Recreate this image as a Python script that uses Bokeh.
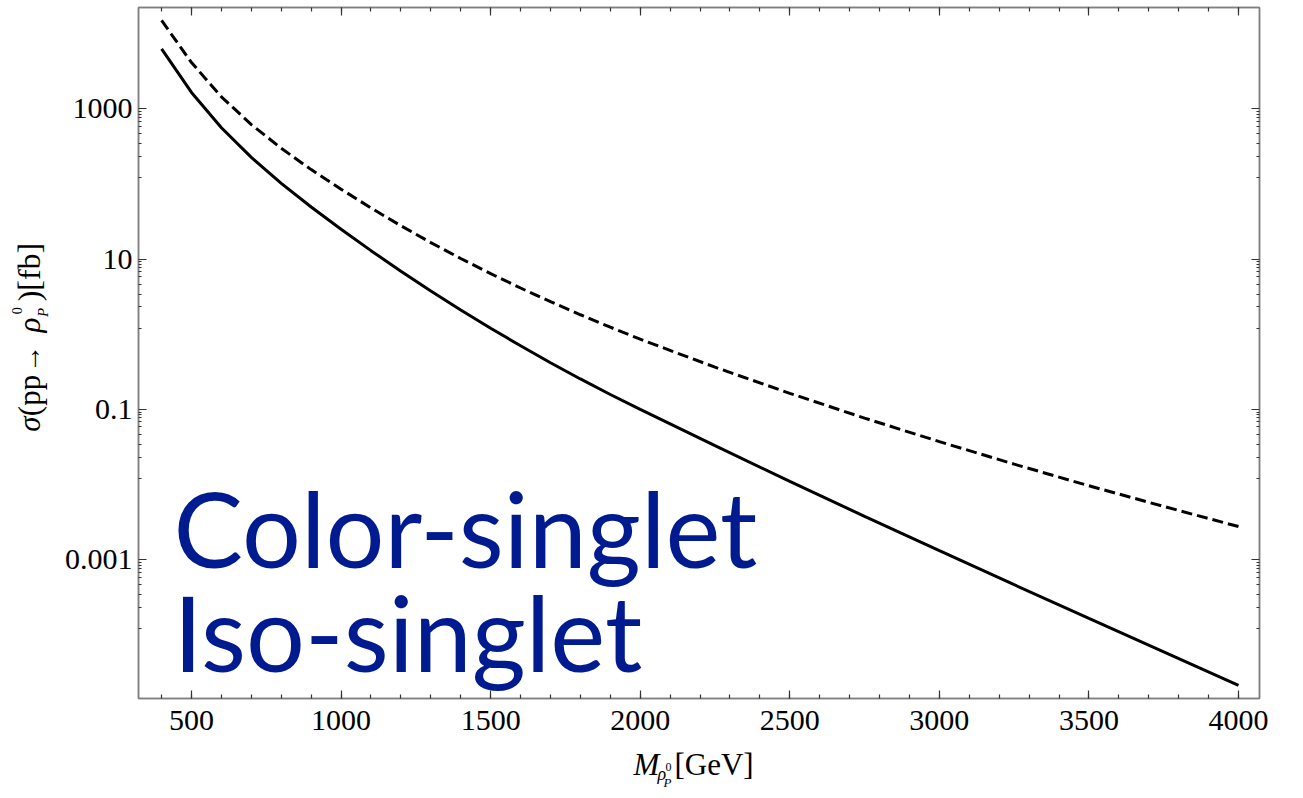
import numpy as np
from bokeh.plotting import figure
from bokeh.models import (FixedTicker, CustomJSTickFormatter, LinearAxis, LogAxis,
                          Range1d)
from bokeh.layouts import row, column
from bokeh.embed import file_html
from bokeh.resources import INLINE
from bokeh.core.properties import value

# ---------------- data ----------------
mass = [400, 500, 600, 700, 800, 900, 1000, 1100, 1200, 1300, 1400, 1500,
        1600, 1700, 1800, 1900, 2000, 2250, 2500, 2750, 3000, 3250, 3500,
        3750, 4000]
sigma_solid = [6281, 1652, 559.8, 225.4, 101.9, 49.32, 25.00, 12.97, 6.887,
               3.767, 2.109, 1.205, 0.7031, 0.4188, 0.2547, 0.1581, 0.1002,
               0.03300, 0.01105, 0.003789, 0.001321, 4.661e-4, 1.663e-4,
               5.970e-5, 2.143e-5]
sigma_dashed = [14962, 4121, 1445, 616.6, 298.5, 155.2, 85.31, 47.97, 27.80,
                16.60, 10.19, 6.412, 4.130, 2.716, 1.820, 1.242, 0.8610,
                0.3652, 0.1641, 0.07674, 0.03736, 0.01873, 0.009661,
                0.005129, 0.002771]

x_major_ticks = [500, 1000, 1500, 2000, 2500, 3000, 3500, 4000]
x_minor_ticks = list(range(400, 4001, 100))
y_major_ticks = [1e-3, 1e-1, 1e1, 1e3]
y_tick_labels = ["0.001", "0.1", "10", "1000"]
y_minor_factors = [0.922, 0.849, 0.774, 0.686, 0.587, 0.465, 0.342, 0.232, 0.121]
y_minor_ticks = [m * f for m in y_major_ticks for f in y_minor_factors]

label_lines = ["Color-singlet", "Iso-singlet"]

# ---------------- layout constants (page px) ----------------
LEFT_W = 58                     # width of the y-label strip
TOTAL_W = 1275
MAIN_H = 748
BOTTOM_H = 48
FL, FR, FT, FB = 138, 1259, 7, 698     # frame edges in page px
X_L, X_R = 322.8, 4070.2
LOG_T, LOG_B = 4.3476, -4.845


def gx(px):
    return X_L + (px - FL) * (X_R - X_L) / (FR - FL)


def gy(py):
    return 10 ** (LOG_T - (py - FT) * (LOG_T - LOG_B) / (FB - FT))


SERIF = "Liberation Serif"
FRAME_C = "#808080"
TICK_C = "#333333"
BLUE = "#001a8f"
K_SERIF = 0.367   # measured anchor-to-baseline offset (em) of the renderer
K_LATO = 0.39

# ---------------- main plot ----------------
main_w = TOTAL_W - LEFT_W
p = figure(width=main_w, height=MAIN_H, y_axis_type="log",
           x_range=Range1d(X_L, X_R), y_range=Range1d(10 ** LOG_B, 10 ** LOG_T),
           output_backend="svg", toolbar_location=None,
           min_border_left=FL - LEFT_W, min_border_right=LEFT_W + main_w - FR,
           min_border_top=FT, min_border_bottom=MAIN_H - FB)
p.xgrid.grid_line_color = None
p.ygrid.grid_line_color = None
p.outline_line_color = FRAME_C
p.outline_line_width = 1.5
p.background_fill_color = "white"
p.border_fill_color = "white"

xb = p.below[0]
yl = p.left[0]
top_ax = LinearAxis()
right_ax = LogAxis()
p.add_layout(top_ax, "above")
p.add_layout(right_ax, "right")

blank = CustomJSTickFormatter(code="return '';")
ylab_fmt = CustomJSTickFormatter(
    args=dict(vals=y_major_ticks, labs=y_tick_labels),
    code="""
    for (let i = 0; i < vals.length; i++) {
        if (Math.abs(Math.log10(tick) - Math.log10(vals[i])) < 1e-6) return labs[i];
    }
    return '';
    """)

for ax in [xb, top_ax]:
    ax.ticker = FixedTicker(ticks=x_major_ticks, minor_ticks=x_minor_ticks)
    ax.minor_tick_in = 4
for ax in [yl, right_ax]:
    ax.ticker = FixedTicker(ticks=y_major_ticks, minor_ticks=y_minor_ticks)
    ax.minor_tick_in = 3

for ax in [xb, top_ax, yl, right_ax]:
    ax.axis_line_color = FRAME_C
    ax.axis_line_width = 1.5
    ax.major_tick_in = 8
    ax.major_tick_out = 0
    ax.minor_tick_out = 0
    ax.major_tick_line_color = TICK_C
    ax.minor_tick_line_color = TICK_C
    ax.major_tick_line_width = 1.2
    ax.minor_tick_line_width = 1.2
    ax.axis_label = None

for ax in [top_ax, right_ax]:
    ax.formatter = blank
    ax.major_label_text_font_size = "0px"
    ax.major_label_standoff = 0

xb.major_label_text_font = SERIF
xb.major_label_text_font_size = "30px"
xb.major_label_text_color = "black"
xb.major_label_standoff = 12

yl.formatter = ylab_fmt
yl.major_label_text_font = SERIF
yl.major_label_text_font_size = "30px"
yl.major_label_text_color = "black"
yl.major_label_standoff = 6

# curves
p.line(mass, sigma_dashed, line_color="black", line_width=3, line_dash="11 5")
p.line(mass, sigma_solid, line_color="black", line_width=3)

# big blue annotation (baselines at page y 568 and 672)
BIG = 104
p.text(x=[gx(173), gx(173)],
       y=[gy(568 - K_LATO * BIG), gy(672 - K_LATO * BIG)], text=label_lines,
       text_font=value("Lato"), text_font_size=value(f"{BIG}px"),
       text_color=BLUE, text_baseline="alphabetic", text_align="left")


# ---------------- helper strips for the axis titles ----------------
def strip(w, h, x0, y0):
    f = figure(width=w, height=h, x_range=Range1d(x0, x0 + w),
               y_range=Range1d(y0 + h, y0), output_backend="svg",
               toolbar_location=None, min_border=0,
               x_axis_location=None, y_axis_location=None)
    f.outline_line_color = None
    f.grid.visible = False
    f.background_fill_color = "white"
    f.border_fill_color = "white"
    return f


def hpiece(f, px, base, txt, size, style="normal"):
    f.text(x=[px], y=[base - K_SERIF * size], text=[txt], text_font=value(SERIF),
           text_font_size=value(f"{size}px"), text_font_style=style,
           text_color="black", text_baseline="alphabetic", text_align="left")


def vpiece(f, base, py, txt, size, style="normal"):
    f.text(x=[base - K_SERIF * size], y=[py], text=[txt], text_font=value(SERIF),
           text_font_size=value(f"{size}px"), text_font_style=style,
           text_color="black", text_baseline="alphabetic", text_align="left",
           angle=np.pi / 2)


left = strip(LEFT_W, FB, 0, 0)
vpiece(left, 40, 462, "σ", 31, "italic")
vpiece(left, 40, 445, "(pp", 31)
vpiece(left, 40, 398, "→", 28)
vpiece(left, 40, 354, "ρ", 31, "italic")
vpiece(left, 22, 334, "0", 14)
vpiece(left, 48, 337, "P", 15, "italic")
vpiece(left, 40, 320, ")[fb]", 32)

bottom = strip(TOTAL_W, BOTTOM_H, 0, MAIN_H)
hpiece(bottom, 633, 775, "M", 31, "italic")
hpiece(bottom, 657, 780, "ρ", 18, "italic")
hpiece(bottom, 665, 771, "0", 12)
hpiece(bottom, 663, 787, "P", 13, "italic")
hpiece(bottom, 674, 775, "[GeV]", 31)

layout = column(row(left, p, spacing=0), bottom, spacing=0)

open("out.html", "w").write(file_html(layout, INLINE))
